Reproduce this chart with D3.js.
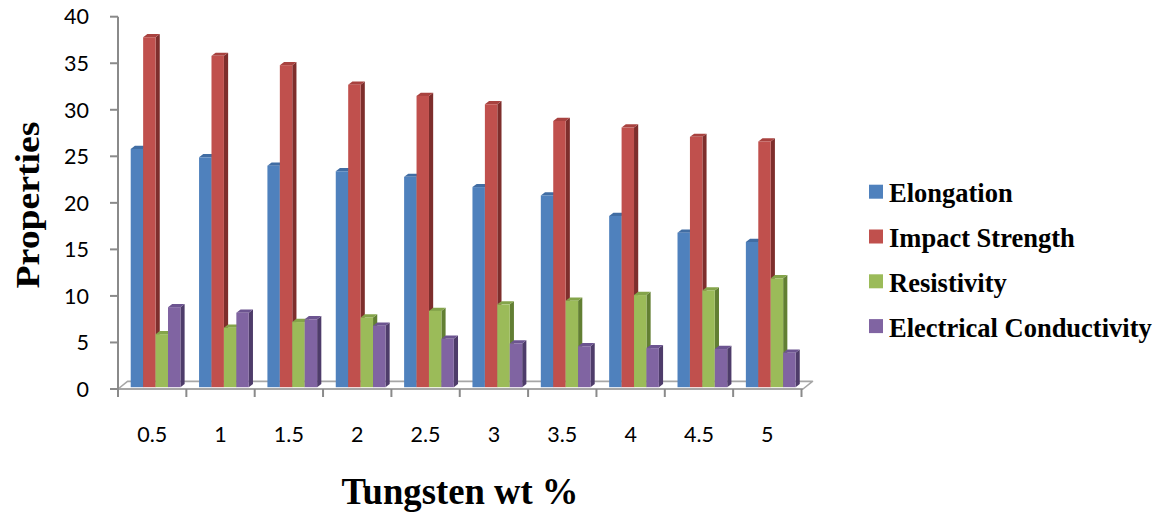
<!DOCTYPE html>
<html>
<head>
<meta charset="utf-8">
<script src="https://cdn.jsdelivr.net/npm/d3@7"></script>
<style>
  html, body { margin: 0; padding: 0; background: #ffffff; }
  svg { display: block; }
</style>
</head>
<body>
<svg id="chart" width="1159" height="514"></svg>
<script>
// ---- data ----
const categories = ["0.5", "1", "1.5", "2", "2.5", "3", "3.5", "4", "4.5", "5"];
const seriesNames = ["Elongation", "Impact Strength", "Resistivity", "Electrical Conductivity"];
const elongation = [25.6, 24.7, 23.8, 23.2, 22.6, 21.5, 20.6, 18.4, 16.6, 15.6];
const impactStrength = [37.6, 35.6, 34.6, 32.5, 31.3, 30.4, 28.6, 27.9, 26.9, 26.4];
const resistivity = [5.7, 6.4, 7.0, 7.5, 8.2, 8.9, 9.3, 9.9, 10.4, 11.7];
const conductivity = [8.6, 8.0, 7.3, 6.6, 5.2, 4.7, 4.4, 4.2, 4.1, 3.7];
const yTicks = [0, 5, 10, 15, 20, 25, 30, 35, 40];

const seriesValues = [elongation, impactStrength, resistivity, conductivity];
const colors = {
  front: ["#4F81BD", "#C0504D", "#9BBB59", "#8064A2"],
  top:   ["#416DA3", "#A8423F", "#84A44A", "#6C5490"],
  side:  ["#30507A", "#7E2E2C", "#627F33", "#4E3C6A"]
};

const svg = d3.select("#chart");

// ---- scales ----
const x = d3.scaleBand().domain(categories).range([118, 801.5]).paddingInner(0).paddingOuter(0);
const y = d3.scaleLinear().domain([0, 40]).range([389, 16.7]);
const band = x.bandwidth();
const barW = band / 5.5;
const sub = d3.scaleBand().domain(seriesNames).range([0, 4 * barW]);
const innerOffset = band * 0.186;

// 3D offsets
const floorDx = 9.5, floorDy = -7.6;
const barShiftX = 0, barShiftY = -1.8;
const depthDx = 4.2, depthDy = -3.2;

const axisColor = "#8a8a8a";

// ---- floor ----
const fx0 = x.range()[0], fx1 = x.range()[1] + 1.5, fy = y(0);
svg.append("path")
  .attr("d", `M${fx0},${fy} L${fx0 + floorDx},${fy + floorDy} L${fx1 + floorDx},${fy + floorDy} L${fx1},${fy} Z`)
  .attr("fill", "#ffffff")
  .attr("stroke", "#a6a6a6")
  .attr("stroke-width", 1.6)
  .attr("stroke-linejoin", "round");

// ---- bars ----
const gBars = svg.append("g");
categories.forEach((c, i) => {
  seriesNames.forEach((s, k) => {
    const v = seriesValues[k][i];
    const x0 = x(c) + innerOffset + sub(s) + barShiftX;
    const x1 = x0 + sub.bandwidth();
    const yb = y(0) + barShiftY;
    const yt = y(v) + barShiftY;
    const g = gBars.append("g");
    g.append("path")
      .attr("d", `M${x1},${yb} L${x1 + depthDx},${yb + depthDy} L${x1 + depthDx},${yt + depthDy} L${x1},${yt} Z`)
      .attr("fill", colors.side[k]);
    g.append("path")
      .attr("d", `M${x0},${yt} L${x1},${yt} L${x1 + depthDx},${yt + depthDy} L${x0 + depthDx},${yt + depthDy} Z`)
      .attr("fill", colors.top[k]);
    g.append("rect")
      .attr("x", x0).attr("y", yt)
      .attr("width", x1 - x0).attr("height", yb - yt)
      .attr("fill", colors.front[k]);
  });
});

// ---- front floor edge + x ticks ----
svg.append("line")
  .attr("x1", fx0).attr("x2", fx1).attr("y1", fy).attr("y2", fy)
  .attr("stroke", "#a6a6a6").attr("stroke-width", 1.8);

const xTickPositions = categories.map(c => x(c)).concat([x.range()[1]]);
svg.append("g").selectAll("line").data(xTickPositions).join("line")
  .attr("x1", d => d).attr("x2", d => d)
  .attr("y1", fy).attr("y2", fy + 8)
  .attr("stroke", axisColor).attr("stroke-width", 2);

svg.append("g").selectAll("text").data(categories).join("text")
  .attr("x", d => x(d) + band / 2)
  .attr("y", 442)
  .attr("text-anchor", "middle")
  .attr("font-family", "Lato, 'Open Sans', sans-serif")
  .attr("font-size", 21.5)
  .attr("fill", "#000")
  .text(d => d);

// ---- y axis ----
svg.append("line")
  .attr("x1", 118).attr("x2", 118).attr("y1", y(40)).attr("y2", y(0))
  .attr("stroke", axisColor).attr("stroke-width", 2);
svg.append("g").selectAll("line").data(yTicks).join("line")
  .attr("x1", 110).attr("x2", 118)
  .attr("y1", d => y(d)).attr("y2", d => y(d))
  .attr("stroke", axisColor).attr("stroke-width", 2);
svg.append("g").selectAll("text").data(yTicks).join("text")
  .attr("x", 89)
  .attr("y", d => y(d))
  .attr("dy", "0.36em")
  .attr("text-anchor", "end")
  .attr("font-family", "Lato, 'Open Sans', sans-serif")
  .attr("font-size", 21.5)
  .attr("fill", "#000")
  .text(d => d);

// ---- axis titles ----
svg.append("text")
  .attr("transform", "translate(39,205) rotate(-90)")
  .attr("text-anchor", "middle")
  .attr("font-family", "'Liberation Serif', 'Times New Roman', serif")
  .attr("font-weight", "bold")
  .attr("font-size", 34)
  .attr("textLength", 167)
  .attr("lengthAdjust", "spacingAndGlyphs")
  .attr("fill", "#000")
  .text("Properties");

svg.append("text")
  .attr("x", 460).attr("y", 504)
  .attr("text-anchor", "middle")
  .attr("font-family", "'Liberation Serif', 'Times New Roman', serif")
  .attr("font-weight", "bold")
  .attr("font-size", 38)
  .attr("textLength", 237)
  .attr("lengthAdjust", "spacingAndGlyphs")
  .attr("fill", "#000")
  .text("Tungsten wt %");

// ---- legend ----
const legend = svg.append("g");
seriesNames.forEach((s, k) => {
  const cy = 191.7 + k * 44.8;
  legend.append("rect")
    .attr("x", 869).attr("y", cy - 7)
    .attr("width", 14).attr("height", 14)
    .attr("fill", colors.front[k]);
  legend.append("text")
    .attr("x", 889).attr("y", cy + 10.5)
    .attr("font-family", "'Liberation Serif', 'Times New Roman', serif")
    .attr("font-weight", "bold")
    .attr("font-size", 26.5)
    .attr("fill", "#000")
    .text(s);
});
</script>
</body>
</html>
